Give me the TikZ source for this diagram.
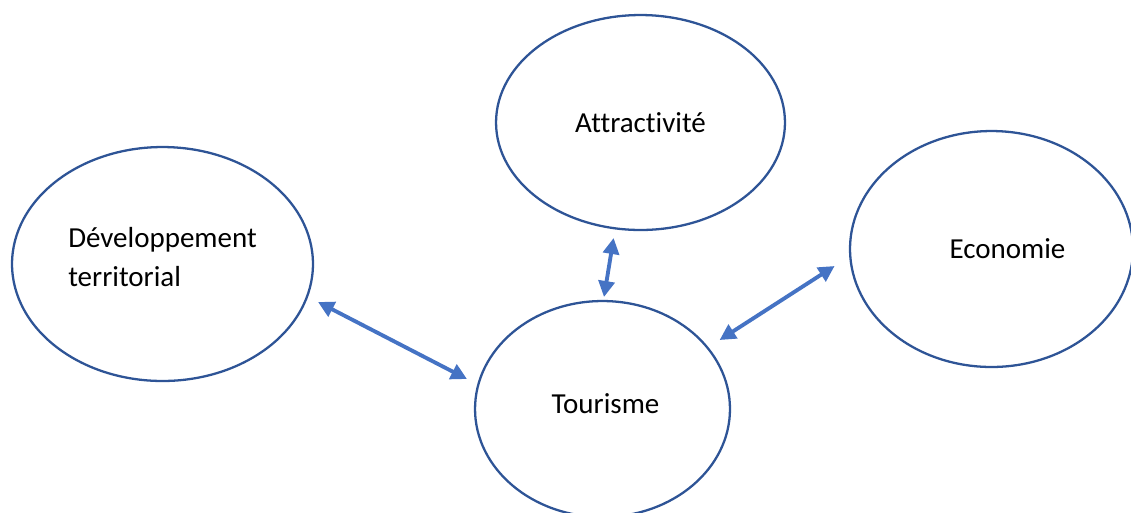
\documentclass[tikz,border=0pt]{standalone}
\usepackage{fontspec}
\setmainfont{Carlito}[Ligatures={NoCommon,NoContextual}]
\usepackage{tikz}
\usetikzlibrary{arrows.meta,shapes.geometric}
\definecolor{zzttcc}{rgb}{0.27,0.45,0.77}
\definecolor{qqzzww}{rgb}{0.18,0.33,0.59}

\begin{document}
\begin{tikzpicture}[line cap=round,line join=round,>={Triangle[length=0.32cm,width=0.32cm]},x=0.02cm,y=-0.02cm,
    texte/.style={font=\fontsize{16.5}{22.2}\selectfont,align=left},
    bulle/.style={draw=qqzzww,line width=1.3pt,ellipse,inner sep=0pt,texte},
    fleche/.style={<->,draw=zzttcc,line width=2.2pt}]
	\useasboundingbox (0,0) rectangle (1131,512);
	\clip (0,0) rectangle (1131,512);
	\node[bulle,minimum width=5.78cm,minimum height=4.3cm] (attr) at (640.5,122.5) {Attractivit\'e};
	\node[bulle,minimum width=6.02cm,minimum height=4.68cm,label={[texte,yshift=0.14cm]center:D\'eveloppement\\territorial}] (dev) at (162.5,264) {};
	\node[bulle,minimum width=5.66cm,minimum height=4.72cm,label={[texte,xshift=0.32cm]center:Economie}] (eco) at (991.5,249) {};
	\node[bulle,minimum width=5.1cm,minimum height=4.32cm,label={[texte,xshift=0.06cm,yshift=0.11cm]center:Tourisme}] (tour) at (602.5,409) {};
	\coordinate (d1) at (318,302);
	\coordinate (t1) at (467,379);
	\coordinate (a1) at (613.6,238);
	\coordinate (t2) at (604,297);
	\coordinate (e1) at (834.6,266);
	\coordinate (t3) at (719.6,340);
	\draw[fleche] (d1)-- (t1);
	\draw[fleche] (a1)-- (t2);
	\draw[fleche] (e1)-- (t3);
\end{tikzpicture}
\end{document}
